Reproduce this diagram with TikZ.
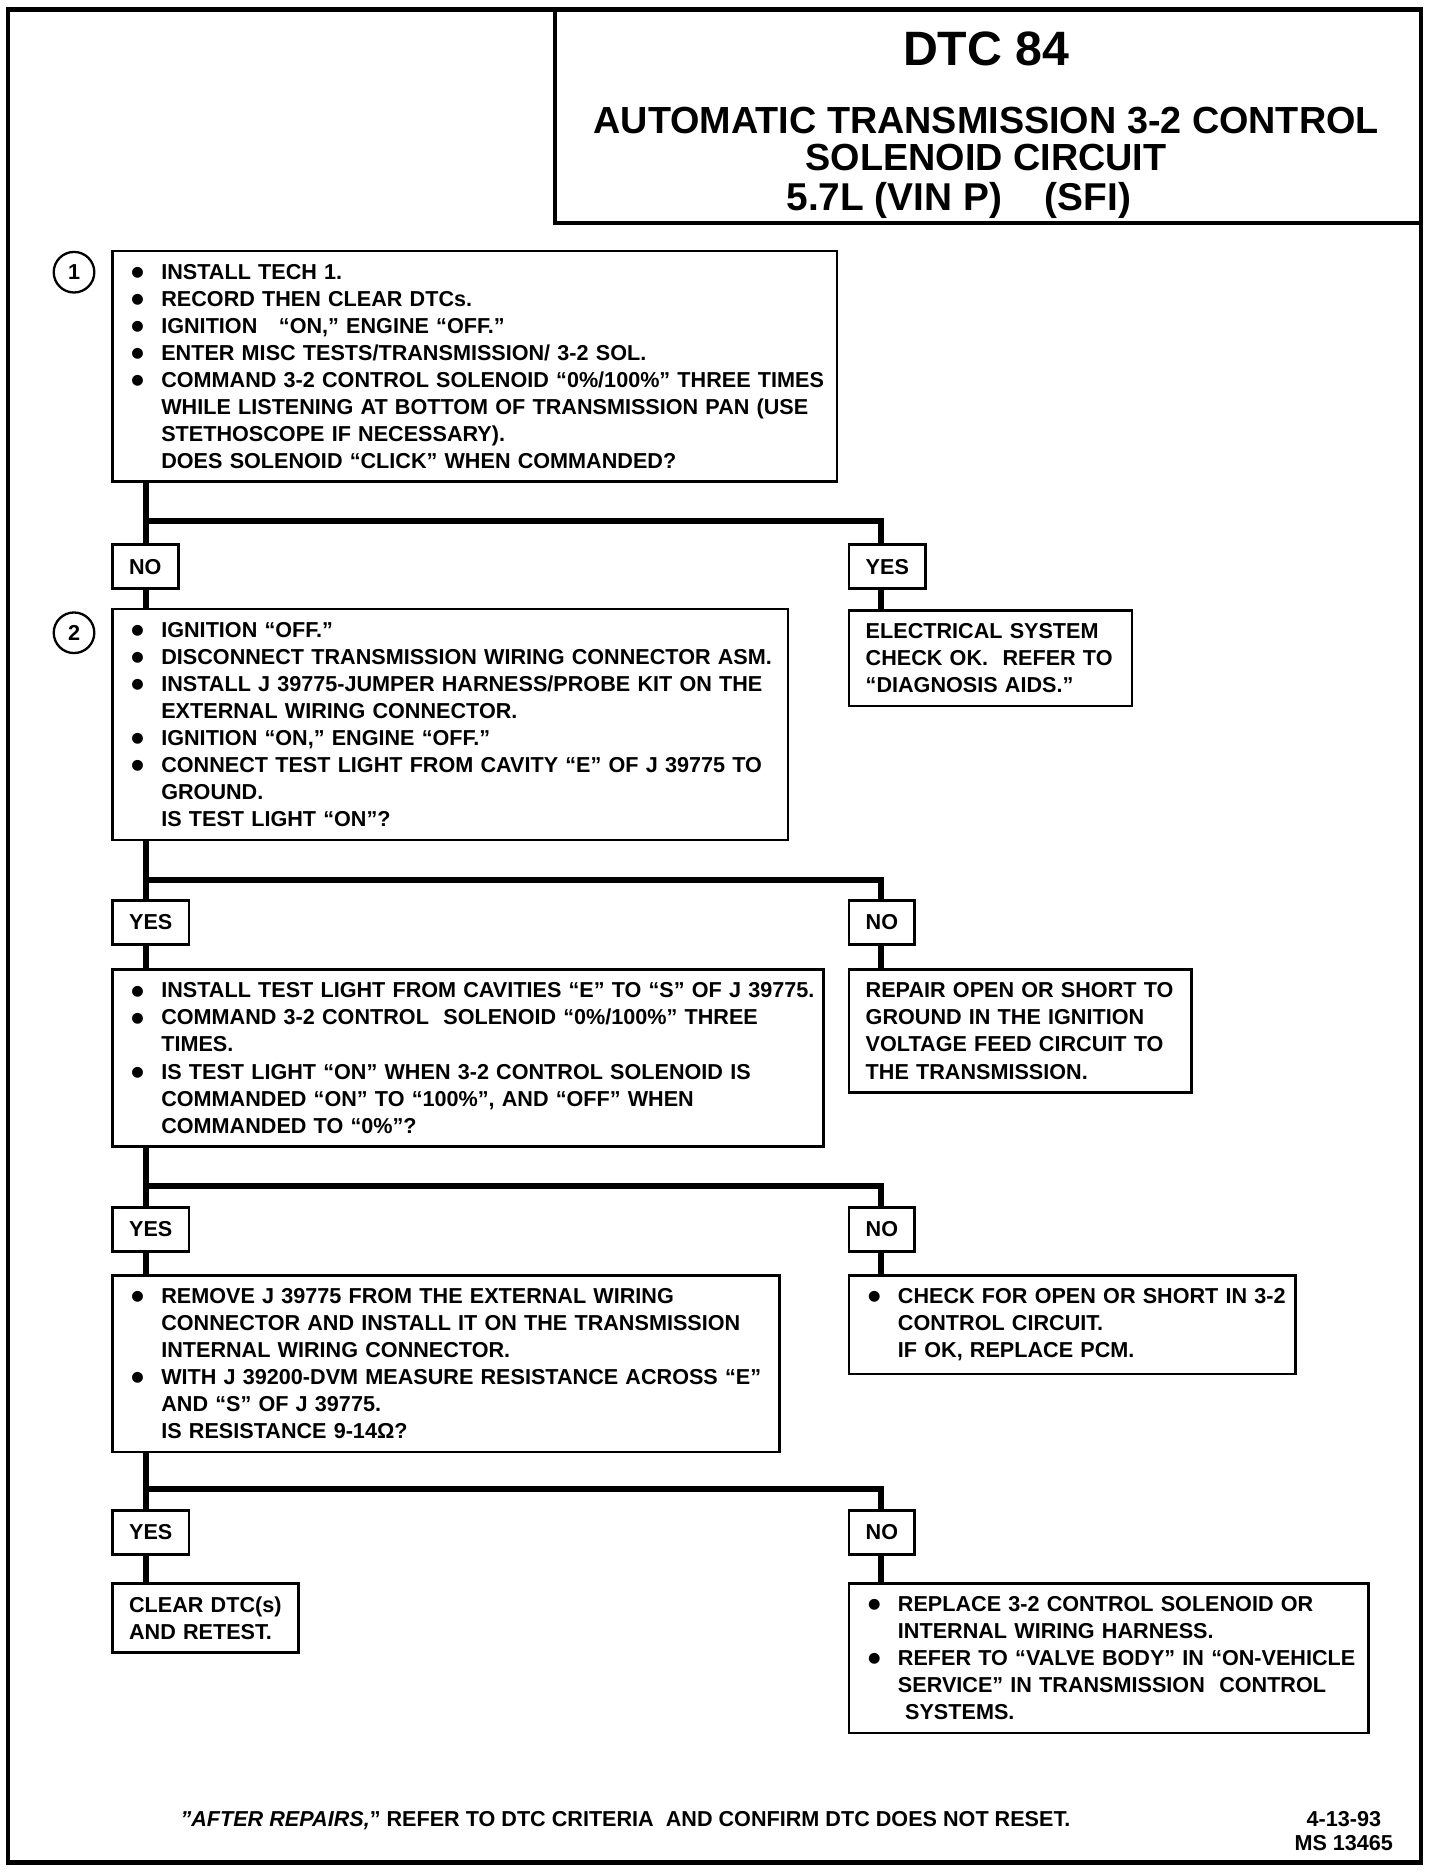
\documentclass[tikz,border=0pt]{standalone}
\usepackage{fontspec}
\setmainfont{Liberation Sans}
\newfontfamily\dotfont{DejaVu Sans}
\newcommand{\bodyfont}{\fontsize{10.3}{12.9}\selectfont\bfseries}
\newcommand{\bigdot}{\raisebox{1.3pt}{\dotfont\fontsize{6.8}{6.8}\selectfont ●}}
\newcommand{\bulline}[1]{\mbox{\makebox[0.5cm][l]{\bigdot}#1}}
\newcommand{\contline}[1]{\mbox{\hspace*{0.5cm}#1}}

\begin{document}
\begin{tikzpicture}[x=0.02cm,y=-0.02cm,
    frame/.style={line width=2pt},
    stepbox/.style={draw,line width=1.3pt,anchor=north west,inner xsep=0.32cm,
        inner ysep=0.22cm,align=left,font=\bodyfont},
    notebox/.style={stepbox,inner xsep=0.28cm},
    answer/.style={draw,line width=1.3pt,anchor=north west,inner xsep=0.28cm,
        inner ysep=0pt,minimum height=0.74cm,font=\bodyfont},
    stepno/.style={draw,circle,line width=1.1pt,minimum size=0.68cm,inner sep=0pt,font=\bodyfont},
    flow/.style={line width=2.8pt}]
    \useasboundingbox (0,0) rectangle (1207,1568);
    %page frame and title block
    \draw[frame] (7,8) rectangle (1190,1560);
    \draw[frame] (465,8) -- (465,187) -- (1190,187);
    \node[anchor=base,font=\fontsize{23}{26}\selectfont\bfseries] (dtc) at (826,55) {DTC 84};
    \node[anchor=base,font=\fontsize{18}{20}\selectfont\bfseries] (ttla) at (826,112) {AUTOMATIC TRANSMISSION 3-2 CONTROL};
    \node[anchor=base,font=\fontsize{18}{20}\selectfont\bfseries] (ttlb) at (826,143) {SOLENOID CIRCUIT};
    \node[anchor=base,font=\fontsize{18.5}{20}\selectfont\bfseries] (ttlc) at (803,176) {5.7L (VIN P)\hspace{1.1em}(SFI)};

    %steps
    \node[stepno] (c1) at (62,228) {1};
    \node[stepbox,text width=11.5cm] (s1) at (93,209) {%
        \bulline{INSTALL TECH 1.}\\
        \bulline{RECORD THEN CLEAR DTCs.}\\
        \bulline{IGNITION \ \ “ON,” ENGINE “OFF.”}\\
        \bulline{ENTER MISC TESTS/TRANSMISSION/ 3-2 SOL.}\\
        \bulline{COMMAND 3-2 CONTROL SOLENOID “0\%/100\%” THREE TIMES}\\
        \contline{WHILE LISTENING AT BOTTOM OF TRANSMISSION PAN (USE}\\
        \contline{STETHOSCOPE IF NECESSARY).}\\
        \contline{DOES SOLENOID “CLICK” WHEN COMMANDED?}};
    \node[answer] (no1) at (93,455) {NO};
    \node[answer] (yes1) at (710,455) {YES};
    \node[notebox,text width=4.18cm] (elec) at (710,510) {%
        \mbox{ELECTRICAL SYSTEM}\\
        \mbox{CHECK OK. \ REFER TO}\\
        \mbox{“DIAGNOSIS AIDS.”}};

    \node[stepno] (c2) at (62,530) {2};
    \node[stepbox,text width=10.68cm] (s2) at (93,509) {%
        \bulline{IGNITION “OFF.”}\\
        \bulline{DISCONNECT TRANSMISSION WIRING CONNECTOR ASM.}\\
        \bulline{INSTALL J 39775-JUMPER HARNESS/PROBE KIT ON THE}\\
        \contline{EXTERNAL WIRING CONNECTOR.}\\
        \bulline{IGNITION “ON,” ENGINE “OFF.”}\\
        \bulline{CONNECT TEST LIGHT FROM CAVITY “E” OF J 39775 TO}\\
        \contline{GROUND.}\\
        \contline{IS TEST LIGHT “ON”?}};
    \node[answer] (yes2) at (93,753) {YES};
    \node[answer] (no2) at (710,753) {NO};
    \node[notebox,text width=5.18cm] (repair) at (710,811) {%
        \mbox{REPAIR OPEN OR SHORT TO}\\
        \mbox{GROUND IN THE IGNITION}\\
        \mbox{VOLTAGE FEED CIRCUIT TO}\\
        \mbox{THE TRANSMISSION.}};

    \node[stepbox,text width=11.28cm] (s3) at (93,811) {%
        \bulline{INSTALL TEST LIGHT FROM CAVITIES “E” TO “S” OF J 39775.}\\
        \bulline{COMMAND 3-2 CONTROL \ SOLENOID “0\%/100\%” THREE}\\
        \contline{TIMES.}\\
        \bulline{IS TEST LIGHT “ON” WHEN 3-2 CONTROL SOLENOID IS}\\
        \contline{COMMANDED “ON” TO “100\%”, AND “OFF” WHEN}\\
        \contline{COMMANDED TO “0\%”?}};
    \node[answer] (yes3) at (93,1010) {YES};
    \node[answer] (no3) at (710,1010) {NO};
    \node[stepbox,text width=6.84cm] (check) at (710,1067) {%
        \bulline{CHECK FOR OPEN OR SHORT IN 3-2}\\
        \contline{CONTROL CIRCUIT.}\\
        \contline{IF OK, REPLACE PCM.}};

    \node[stepbox,text width=10.54cm] (s4) at (93,1067) {%
        \bulline{REMOVE J 39775 FROM THE EXTERNAL WIRING}\\
        \contline{CONNECTOR AND INSTALL IT ON THE TRANSMISSION}\\
        \contline{INTERNAL WIRING CONNECTOR.}\\
        \bulline{WITH J 39200-DVM MEASURE RESISTANCE ACROSS “E”}\\
        \contline{AND “S” OF J 39775.}\\
        \contline{IS RESISTANCE 9-14Ω?}};
    \node[answer] (yes4) at (93,1264) {YES};
    \node[answer] (no4) at (710,1264) {NO};
    \node[notebox,text width=2.56cm] (clear) at (93,1325) {%
        \mbox{CLEAR DTC(s)}\\
        \mbox{AND RETEST.}};
    \node[stepbox,text width=8.06cm] (replace) at (710,1325) {%
        \bulline{REPLACE 3-2 CONTROL SOLENOID OR}\\
        \contline{INTERNAL WIRING HARNESS.}\\
        \bulline{REFER TO “VALVE BODY” IN “ON-VEHICLE}\\
        \contline{SERVICE” IN TRANSMISSION \ CONTROL}\\
        \contline{\ SYSTEMS.}};

    %connectors
    \draw[flow] ([xshift=.58cm]s1.south west) -- ([xshift=.58cm]no1.north west);
    \draw[flow] ([xshift=.58cm,yshift=-.64cm]s1.south west) -| ([xshift=.56cm]yes1.north west);
    \draw[flow] ([xshift=.58cm]no1.south west) -- ([xshift=.58cm]s2.north west);
    \draw[flow] ([xshift=.56cm]yes1.south west) -- ([xshift=.56cm]elec.north west);

    \draw[flow] ([xshift=.58cm]s2.south west) -- ([xshift=.58cm]yes2.north west);
    \draw[flow] ([xshift=.58cm,yshift=-.64cm]s2.south west) -| ([xshift=.56cm]no2.north west);
    \draw[flow] ([xshift=.58cm]yes2.south west) -- ([xshift=.58cm]s3.north west);
    \draw[flow] ([xshift=.56cm]no2.south west) -- ([xshift=.56cm]repair.north west);

    \draw[flow] ([xshift=.58cm]s3.south west) -- ([xshift=.58cm]yes3.north west);
    \draw[flow] ([xshift=.58cm,yshift=-.64cm]s3.south west) -| ([xshift=.56cm]no3.north west);
    \draw[flow] ([xshift=.58cm]yes3.south west) -- ([xshift=.58cm]s4.north west);
    \draw[flow] ([xshift=.56cm]no3.south west) -- ([xshift=.56cm]check.north west);

    \draw[flow] ([xshift=.58cm]s4.south west) -- ([xshift=.58cm]yes4.north west);
    \draw[flow] ([xshift=.58cm,yshift=-.6cm]s4.south west) -| ([xshift=.56cm]no4.north west);
    \draw[flow] ([xshift=.58cm]yes4.south west) -- ([xshift=.58cm]clear.north west);
    \draw[flow] ([xshift=.56cm]no4.south west) -- ([xshift=.56cm]replace.north west);

    %footer
    \node[anchor=base west,font=\bodyfont] (after) at (145,1530)
        {\textit{”AFTER REPAIRS,}” REFER TO DTC CRITERIA \ AND CONFIRM DTC DOES NOT RESET.};
    \node[anchor=base east,font=\bodyfont] (date) at (1163,1530) {4-13-93};
    \node[anchor=base east,font=\bodyfont] (ms) at (1173,1550) {MS 13465};
\end{tikzpicture}
\end{document}
